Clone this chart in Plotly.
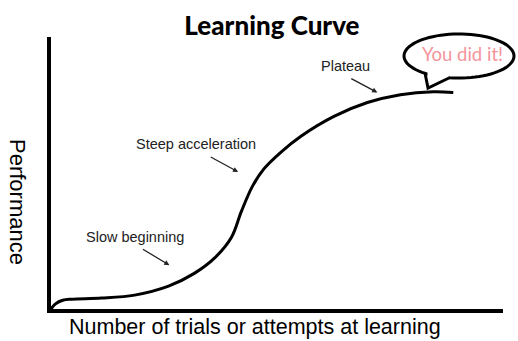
import numpy as np
import plotly.graph_objects as go

# Data (trials vs performance, in % of axis range)
trials = [0, 1.0, 2.6, 4.5, 11.2, 18.5, 26, 31.7, 36.1, 39.9, 42.1, 44.5, 47.1, 50.9, 55.3, 62.6, 70, 77.3, 84.6, 89]
performance = [0, 1.9, 3.2, 3.6, 4.0, 5.1, 8.4, 13.1, 18.6, 26.3, 35.8, 44.9, 51.5, 57.7, 63.5, 70.8, 75.9, 78.8, 79.9, 79.6]

labels = ["Slow beginning", "Steep acceleration", "Plateau"]
label_xy = [(18.5, 26.6), (32.0, 60.6), (65.2, 89.4)]
arrow_tail = [(20.0, 22.3), (35.0, 56.2), (66.1, 85.0)]
arrow_head = [(26.2, 16.1), (41.4, 50.4), (72.2, 79.6)]

W, H = 518, 341
L, R, T, B = 51, 15, 37, 32
pw, ph = W - L - R, H - T - B


def px2paper(px, py):
    return (px - L) / pw, (H - B - py) / ph


def mkpath(points, close=False):
    s = "M " + " L ".join(f"{x:.4f},{y:.4f}" for x, y in (px2paper(a, b) for a, b in points))
    return s + (" Z" if close else "")


fig = go.Figure()
fig.add_trace(go.Scatter(x=trials, y=performance, mode="lines",
                         line=dict(color="black", width=3, shape="spline", smoothing=1.0),
                         hoverinfo="skip", cliponaxis=False))

for txt, (lx, ly), (tx, ty), (hx, hy) in zip(labels, label_xy, arrow_tail, arrow_head):
    fig.add_annotation(x=lx, y=ly, text=txt, showarrow=False, xanchor="center", yanchor="middle",
                       font=dict(family="Liberation Sans, Arial", size=14.5, color="#222"))
    fig.add_annotation(x=hx, y=hy, ax=tx, ay=ty, axref="x", ayref="y", text="",
                       showarrow=True, arrowhead=2, arrowsize=0.8, arrowwidth=1.3, arrowcolor="#222")

# speech bubble
cx, cy, rx, ry = 459, 56, 55, 22
t = np.linspace(0, 2 * np.pi, 80)
ell = [(cx + rx * np.cos(a), cy + ry * np.sin(a)) for a in t]
fig.add_shape(type="path", path=mkpath(ell, True), xref="paper", yref="paper",
              line=dict(color="black", width=3), fillcolor="white", layer="above")
fig.add_shape(type="path", path=mkpath([(427.5, 70), (427.5, 82), (449, 82), (449, 74)], True),
              xref="paper", yref="paper", line=dict(width=0), fillcolor="white", layer="above")
fig.add_shape(type="path", path=mkpath([(425, 73), (428, 88), (450, 77.5)]), xref="paper", yref="paper",
              line=dict(color="black", width=3), layer="above")
bx, by = px2paper(462, 54)
fig.add_annotation(x=bx, y=by, xref="paper", yref="paper", text="You did it!", showarrow=False,
                   xanchor="center", yanchor="middle",
                   font=dict(family="Lato", size=18.5, color="#f4949c"))

# axis titles
ax_, ay_ = px2paper(18, 202)
fig.add_annotation(x=ax_, y=ay_, xref="paper", yref="paper", text="Performance", showarrow=False,
                   xanchor="center", yanchor="middle",
                   textangle=90, font=dict(family="Liberation Sans, Arial", size=22, color="black"))
xx, xy = px2paper(255, 327)
fig.add_annotation(x=xx, y=xy, xref="paper", yref="paper", text="Number of trials or attempts at learning",
                   xanchor="center", yanchor="middle",
                   showarrow=False, font=dict(family="Liberation Sans, Arial", size=21.5, color="black"))

fig.update_layout(
    width=W, height=H, margin=dict(l=L, r=R, t=T, b=B),
    paper_bgcolor="white", plot_bgcolor="white", showlegend=False,
    title=dict(text="Learning Curve", x=0.525, xanchor="center", y=0.925, yanchor="middle",
               font=dict(family="Lato", size=26, color="black", weight=900)),
)
fig.update_xaxes(range=[0, 100], showgrid=False, zeroline=False, showticklabels=False, ticks="",
                 showline=True, linecolor="black", linewidth=4)
fig.update_yaxes(range=[0, 100], showgrid=False, zeroline=False, showticklabels=False, ticks="",
                 showline=True, linecolor="black", linewidth=4)

fig.write_html("out.html", config={"displayModeBar": False},
               post_script="document.body.style.margin='0';")
